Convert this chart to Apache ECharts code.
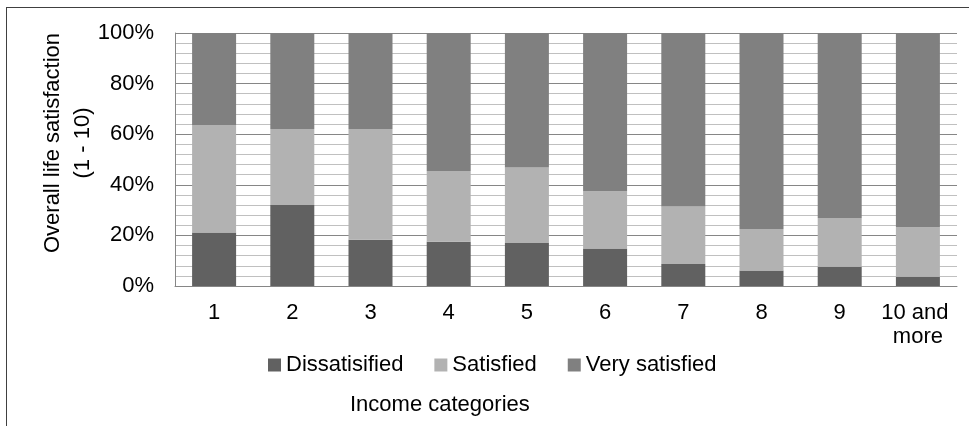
<!DOCTYPE html>
<html>
<head>
<meta charset="utf-8">
<script src="https://cdn.jsdelivr.net/npm/echarts@6/dist/echarts.min.js"></script>
<style>
html,body{margin:0;padding:0;background:#fff;overflow:hidden;}
#wrap{position:relative;width:969px;height:426px;overflow:hidden;}
#main{width:969px;height:426px;}
#frame{position:absolute;left:6px;top:7px;width:1000px;height:500px;border:1px solid #404040;pointer-events:none;}
</style>
</head>
<body>
<div id="wrap">
<div id="main"></div>
<div id="frame"></div>
</div>
<script>
var categories = ['1', '2', '3', '4', '5', '6', '7', '8', '9', '10 and more'];
var dissatisfied = [21.1, 32.0, 18.3, 17.5, 17.0, 14.8, 8.7, 6.1, 7.6, 3.7];
var satisfied = [42.5, 30.1, 43.8, 28.0, 29.8, 22.7, 22.7, 16.4, 19.3, 19.5];
var verySatisfied = [36.4, 37.9, 37.9, 54.5, 53.2, 62.5, 68.6, 77.5, 73.1, 76.8];
var seriesNames = ['Dissatisified', 'Satisfied', 'Very satisfied'];
var yTicks = [0, 20, 40, 60, 80, 100];
var yAxisTitle = 'Overall life satisfaction\n(1 - 10)';
var xAxisTitle = 'Income categories';

var FONT = 'Liberation Sans, Arial, sans-serif';
var FS = 22;
var chart = echarts.init(document.getElementById('main'), null, {renderer: 'canvas'});
chart.setOption({
  animation: false,
  backgroundColor: '#ffffff',
  textStyle: {fontFamily: FONT},
  title: {
    text: xAxisTitle,
    left: 350,
    top: 394,
    padding: 0,
    textStyle: {fontFamily: FONT, fontSize: FS, fontWeight: 'normal', color: '#000', lineHeight: 22}
  },
  graphic: [
    {
      type: 'text',
      x: 67.5,
      y: 143,
      rotation: Math.PI / 2,
      style: {
        text: yAxisTitle,
        font: FS + 'px ' + FONT,
        fill: '#000',
        align: 'center',
        verticalAlign: 'middle',
        lineHeight: 30
      }
    }
  ],
  legend: {
    data: seriesNames,
    left: 268,
    top: 354,
    padding: 0,
    itemGap: 31,
    itemWidth: 13,
    itemHeight: 13,
    icon: 'rect',
    textStyle: {fontFamily: FONT, fontSize: FS, color: '#000', lineHeight: 22}
  },
  grid: {left: 175, right: 12, top: 33, bottom: 140, containLabel: false},
  xAxis: {
    type: 'category',
    data: categories,
    axisLine: {show: true, lineStyle: {color: '#868686', width: 1}},
    axisTick: {show: false},
    axisLabel: {
      fontFamily: FONT, fontSize: FS, color: '#000', margin: 15, lineHeight: 24,
      width: 76, overflow: 'break', interval: 0
    },
    splitLine: {show: false}
  },
  yAxis: {
    type: 'value',
    min: yTicks[0],
    max: yTicks[yTicks.length - 1],
    interval: 4,
    axisLine: {show: true, lineStyle: {color: '#868686', width: 1}},
    axisTick: {show: false},
    axisLabel: {
      fontFamily: FONT, fontSize: FS, color: '#000', margin: 21,
      formatter: function (v) { return yTicks.indexOf(v) >= 0 ? v + '%' : ''; }
    },
    splitLine: {show: true, lineStyle: {color: ['#868686', '#c0c0c0', '#c0c0c0', '#c0c0c0', '#c0c0c0'], width: 1}}
  },
  series: [
    {name: seriesNames[0], type: 'bar', stack: 'total', data: dissatisfied, barWidth: 44, itemStyle: {color: '#616161'}},
    {name: seriesNames[1], type: 'bar', stack: 'total', data: satisfied, barWidth: 44, itemStyle: {color: '#b2b2b2'}},
    {name: seriesNames[2], type: 'bar', stack: 'total', data: verySatisfied, barWidth: 44, itemStyle: {color: '#808080'}}
  ]
});
</script>
</body>
</html>
